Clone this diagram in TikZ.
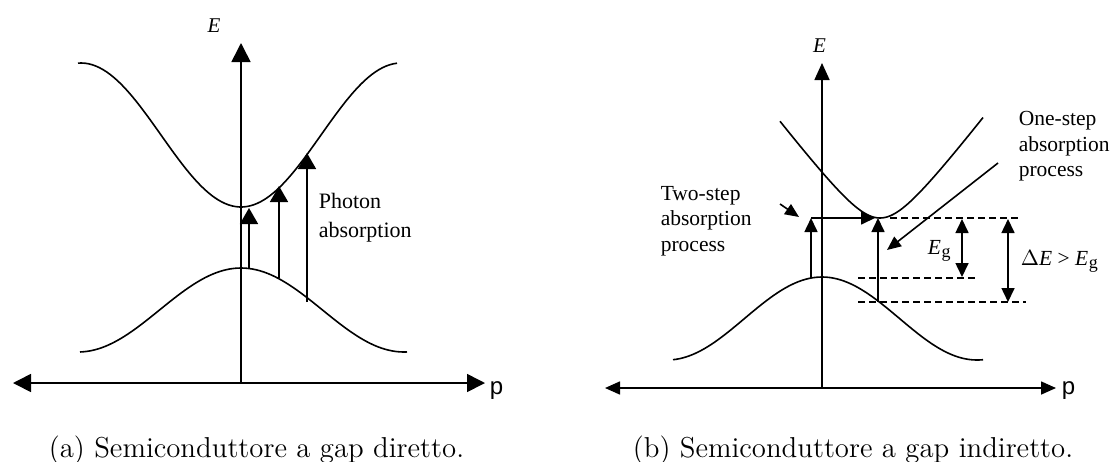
\documentclass[tikz,border=0pt]{standalone}
\usepackage{fontspec}
\newfontfamily\tms{Liberation Serif}
\newfontfamily\hlv{Liberation Sans}
\usetikzlibrary{arrows.meta}
\newcommand{\EgLabel}{\textit{E}\kern0.3pt\raisebox{-0.35ex}{\fontsize{9}{9}\selectfont g}}
\begin{document}
\begin{tikzpicture}[x=0.5pt,y=-0.5pt,line width=0.8pt,
  bigtip/.style={-{Triangle[length=9.5pt,width=9.5pt]}},
  bigtwo/.style={{Triangle[length=9pt,width=9pt]}-{Triangle[length=9pt,width=9pt]}},
  midtip/.style={-{Triangle[length=8pt,width=9pt]}},
  axtip/.style={-{Triangle[length=8.5pt,width=7.5pt]}},
  axtwo/.style={{Triangle[length=7.5pt,width=6.5pt]}-{Triangle[length=7.5pt,width=6.5pt]}},
  smtip/.style={-{Triangle[length=7pt,width=6.5pt]}},
  smtwo/.style={{Triangle[length=7pt,width=6.5pt]}-{Triangle[length=7pt,width=6.5pt]}},
  ptr/.style={-{Triangle[length=7pt,width=6pt]}},
  dashline/.style={dash pattern=on 3.5pt off 2pt},
  lblL/.style={inner sep=0pt,font=\tms\fontsize{11}{13}\selectfont},
  lblR/.style={inner sep=0pt,font=\tms\fontsize{10.75}{13}\selectfont},
  elbl/.style={inner sep=0pt,font=\tms\itshape\fontsize{10.5}{12}\selectfont},
  plbl/.style={inner sep=0pt,font=\hlv\fontsize{12}{14}\selectfont},
  captxt/.style={inner sep=0pt,font=\fontsize{14.4}{17}\selectfont}]
\useasboundingbox (0,0) rectangle (1111,461);

% ---------- panel (a) ----------
\coordinate (aO) at (241,383);
\coordinate (aTop) at (241,43);
\coordinate (aLeft) at (13,383);
\coordinate (aRight) at (485,383);
\draw[bigtip] (aO) -- (aTop);
\draw[bigtwo] (aLeft) -- (aRight);
\node[elbl,anchor=base] (aE) at (214,32) {E};
\node[plbl,anchor=base west] (aP) at (489,394) {p};

\draw plot[domain=78:397,samples=90,smooth] (\x,{135+72*cos(1.125*(\x-241))});
\draw plot[domain=80:407,samples=90,smooth] (\x,{310-42*cos(1.1043*(\x-241))});

\coordinate (a1b) at (249,268);
\coordinate (a1t) at (249,208);
\coordinate (a2b) at (279,278);
\coordinate (a2t) at (279,186);
\coordinate (a3b) at (307,302);
\coordinate (a3t) at (307,153);
\draw[midtip] (a1b) -- (a1t);
\draw[midtip] (a2b) -- (a2t);
\draw[midtip] (a3b) -- (a3t);
\node[lblL,anchor=base west] (ph1) at (318,208) {Photon};
\node[lblL,anchor=base west] (ph2) at (318,237) {absorption};

% ---------- panel (b) ----------
\coordinate (bO) at (822,388);
\coordinate (bTop) at (822,63);
\coordinate (bLeft) at (605,388);
\coordinate (bRight) at (1056,388);
\draw[axtip] (bO) -- (bTop);
\draw[axtwo] (bLeft) -- (bRight);
\node[elbl,anchor=base] (bE) at (819.5,52) {E};
\node[plbl,anchor=base west] (bP) at (1061,394) {p};

\draw plot[domain=780:983,samples=90,smooth] (\x,{218-39*(sqrt(1+((\x-880)/30)^2)-1)});
\draw plot[domain=673:983,samples=90,smooth] (\x,{318.5-41.5*cos(1.1613*(\x-822))});

% two-step process
\coordinate (t1b) at (811,278);
\coordinate (t1t) at (811,218);
\coordinate (t2e) at (875,218);
\draw[smtip] (t1b) -- (t1t);
\draw[smtip] (t1t) -- (t2e);
\coordinate (tpS) at (780,204);
\coordinate (tpE) at (799,217);
\draw[ptr] (tpS) -- (tpE);
\node[lblR,anchor=base west] (ts1) at (660,200) {Two-step};
\node[lblR,anchor=base west] (ts2) at (660,225.5) {absorption};
\node[lblR,anchor=base west] (ts3) at (660,251) {process};

% one-step process
\coordinate (o1b) at (878,302);
\coordinate (o1t) at (878,218);
\draw[smtip] (o1b) -- (o1t);
\coordinate (opS) at (998,163);
\coordinate (opE) at (887,250);
\draw[ptr] (opS) -- (opE);
\node[lblR,anchor=base west] (os1) at (1018,125) {One-step};
\node[lblR,anchor=base west] (os2) at (1018,151) {absorption};
\node[lblR,anchor=base west] (os3) at (1018,176) {process};

% dashed levels
\coordinate (d1s) at (890,218);
\coordinate (d1e) at (1018,218);
\coordinate (d2s) at (858,278);
\coordinate (d2e) at (976,278);
\coordinate (d3s) at (858,302);
\coordinate (d3e) at (1026,302);
\draw[dashline] (d1s) -- (d1e);
\draw[dashline] (d2s) -- (d2e);
\draw[dashline] (d3s) -- (d3e);

% gap arrows
\coordinate (g1t) at (962,219);
\coordinate (g1b) at (962,277);
\coordinate (g2t) at (1008,219);
\coordinate (g2b) at (1008,302);
\draw[smtwo] (g1t) -- (g1b);
\draw[smtwo] (g2t) -- (g2b);
\node[lblR,anchor=base west] (egl) at (927,254) {\EgLabel};
\node[lblR,anchor=base west] (del) at (1020,265) {$\Delta$\textit{E} > \EgLabel};

% captions
\node[captxt,anchor=base] (capa) at (256.5,457) {(a) Semiconduttore a gap diretto.};
\node[captxt,anchor=base] (capb) at (853,457) {(b) Semiconduttore a gap indiretto.};
\end{tikzpicture}
\end{document}
